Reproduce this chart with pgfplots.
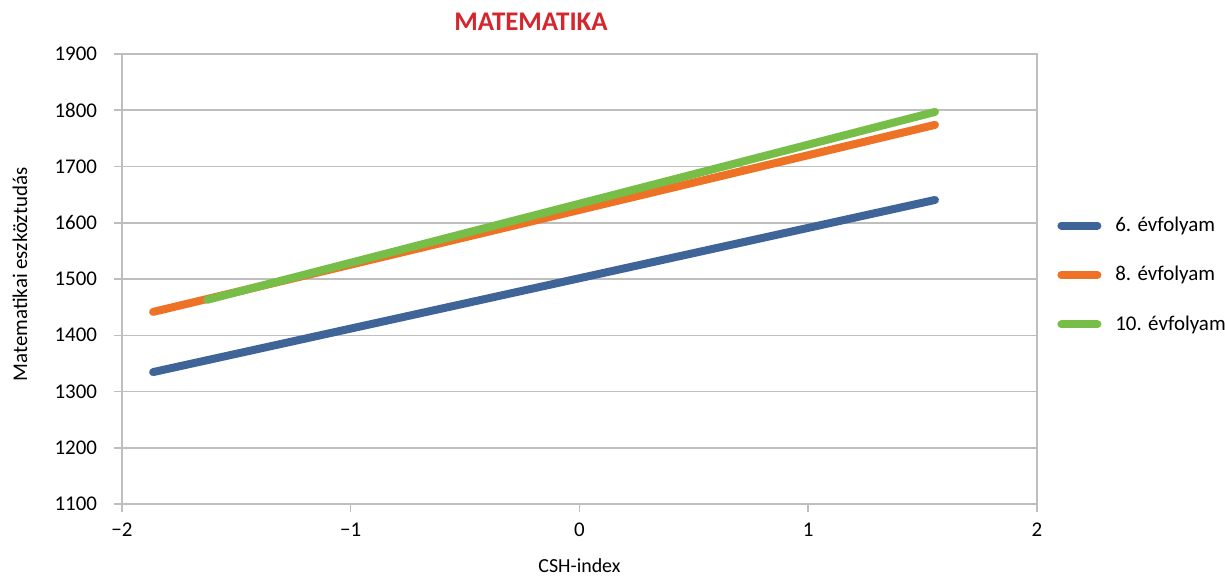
\documentclass[border=0pt]{standalone}
\usepackage{pgfplots}
\pgfplotsset{compat=1.18}
\usepackage{fontspec}
\setmainfont{Carlito}
\definecolor{cblue}{RGB}{62,100,152}
\definecolor{corange}{RGB}{238,114,38}
\definecolor{cgreen}{RGB}{118,190,72}
\definecolor{gridgray}{RGB}{190,190,190}
\definecolor{titlered}{RGB}{214,38,45}
\begin{document}
\begin{tikzpicture}
\begin{axis}[
  scale only axis, width=457.5bp, height=225bp,
  xmin=-2, xmax=2, ymin=1100, ymax=1900,
  xtick={-2,-1,0,1,2}, xticklabels={−2,−1,0,1,2},
  ytick={1100,1200,1300,1400,1500,1600,1700,1800,1900},
  /pgf/number format/assume math mode=true,
  /pgf/number format/1000 sep={},
  tick align=outside, xtick pos=left, ytick pos=left,
  major tick length=4bp,
  axis line style={draw=gridgray, line width=0.75bp},
  every tick/.style={draw=gridgray, line width=0.75bp},
  ymajorgrids, grid style={draw=gridgray, line width=0.75bp},
  tick label style={font=\fontsize{10.5}{12}\selectfont, text=black},
  yticklabel style={xshift=-5bp},
  xticklabel style={yshift=-2bp},
  xlabel={CSH-index},
  xlabel style={at={(axis description cs:0.5,-0.138)}, anchor=center, font=\fontsize{10}{12}\selectfont},
  ylabel={Matematikai eszköztudás},
  ylabel style={at={(axis description cs:-0.1115,0.51)}, anchor=center, font=\fontsize{10.5}{12}\selectfont},
  title={MATEMATIKA},
  title style={at={(axis description cs:0.447,1)}, anchor=center, yshift=10bp, font=\bfseries\fontsize{13.5}{15}\selectfont, text=titlered},
  legend style={at={(axis description cs:1,0.5)}, anchor=west, xshift=10bp, yshift=2bp,
    draw=none, fill=none, inner sep=0pt, row sep=12bp, font=\fontsize{10.5}{12}\selectfont,
    /tikz/every odd column/.append style={column sep=5bp}},
  legend cell align=left,
  legend image code/.code={\path (0bp,0bp) -- (18bp,0bp); \draw[#1, line cap=round] (2bp,0bp) -- (16bp,0bp);},
]
\addplot[cblue, line width=4bp, line cap=round] coordinates {(-1.864,1334.5) (1.554,1640.5)};
\addlegendentry{6. évfolyam}
\addplot[corange, line width=4bp, line cap=round] coordinates {(-1.864,1441.5) (1.554,1774)};
\addlegendentry{8. évfolyam}
\addplot[cgreen, line width=4bp, line cap=round] coordinates {(-1.628,1463) (1.554,1797)};
\addlegendentry{10. évfolyam}
\end{axis}
\pgfresetboundingbox
\path (-61bp,-36bp) rectangle (551.5bp,252bp);
\end{tikzpicture}
\end{document}
